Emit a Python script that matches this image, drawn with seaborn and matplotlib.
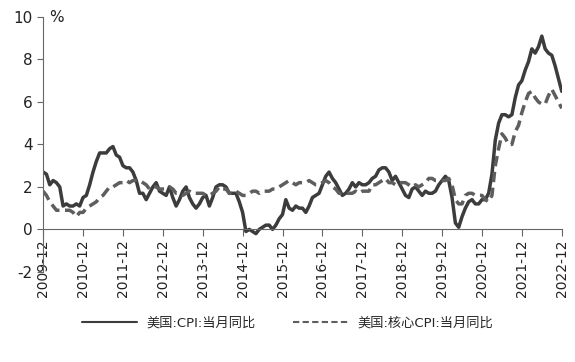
import numpy as np
import pandas as pd
import matplotlib
matplotlib.use("Agg")
import matplotlib.pyplot as plt
import seaborn as sns

# ── Data: monthly YoY, 2009-12 .. 2022-12 ───────────────────────────────────
cpi = [
    2.7,
    2.6, 2.1, 2.3, 2.2, 2.0, 1.1, 1.2, 1.1, 1.1, 1.2, 1.1, 1.5,   # 2010
    1.6, 2.1, 2.7, 3.2, 3.6, 3.6, 3.6, 3.8, 3.9, 3.5, 3.4, 3.0,   # 2011
    2.9, 2.9, 2.7, 2.3, 1.7, 1.7, 1.4, 1.7, 2.0, 2.2, 1.8, 1.7,   # 2012
    1.6, 2.0, 1.5, 1.1, 1.4, 1.8, 2.0, 1.5, 1.2, 1.0, 1.2, 1.5,   # 2013
    1.6, 1.1, 1.5, 2.0, 2.1, 2.1, 2.0, 1.7, 1.7, 1.7, 1.3, 0.8,   # 2014
    -0.1, 0.0, -0.1, -0.2, 0.0, 0.1, 0.2, 0.2, 0.0, 0.2, 0.5, 0.7,  # 2015
    1.4, 1.0, 0.9, 1.1, 1.0, 1.0, 0.8, 1.1, 1.5, 1.6, 1.7, 2.1,   # 2016
    2.5, 2.7, 2.4, 2.2, 1.9, 1.6, 1.7, 1.9, 2.2, 2.0, 2.2, 2.1,   # 2017
    2.1, 2.2, 2.4, 2.5, 2.8, 2.9, 2.9, 2.7, 2.3, 2.5, 2.2, 1.9,   # 2018
    1.6, 1.5, 1.9, 2.0, 1.8, 1.6, 1.8, 1.7, 1.7, 1.8, 2.1, 2.3,   # 2019
    2.5, 2.3, 1.5, 0.3, 0.1, 0.6, 1.0, 1.3, 1.4, 1.2, 1.2, 1.4,   # 2020
    1.4, 1.7, 2.6, 4.2, 5.0, 5.4, 5.4, 5.3, 5.4, 6.2, 6.8, 7.0,   # 2021
    7.5, 7.9, 8.5, 8.3, 8.6, 9.1, 8.5, 8.3, 8.2, 7.7, 7.1, 6.5,   # 2022
]
core_cpi = [
    1.8,
    1.6, 1.3, 1.1, 0.9, 0.9, 0.9, 0.9, 0.9, 0.8, 0.6, 0.8, 0.8,   # 2010
    1.0, 1.1, 1.2, 1.3, 1.5, 1.6, 1.8, 2.0, 2.0, 2.1, 2.2, 2.2,   # 2011
    2.3, 2.2, 2.3, 2.3, 2.3, 2.2, 2.1, 1.9, 2.0, 2.0, 1.9, 1.9,   # 2012
    1.9, 2.0, 1.9, 1.7, 1.7, 1.6, 1.7, 1.8, 1.7, 1.7, 1.7, 1.7,   # 2013
    1.6, 1.6, 1.7, 1.8, 2.0, 1.9, 1.9, 1.7, 1.7, 1.8, 1.7, 1.6,   # 2014
    1.6, 1.7, 1.8, 1.8, 1.7, 1.8, 1.8, 1.8, 1.9, 1.9, 2.0, 2.1,   # 2015
    2.2, 2.3, 2.2, 2.1, 2.2, 2.2, 2.2, 2.3, 2.2, 2.1, 2.1, 2.2,   # 2016
    2.3, 2.2, 2.0, 1.9, 1.7, 1.7, 1.7, 1.7, 1.7, 1.8, 1.7, 1.8,   # 2017
    1.8, 1.8, 2.1, 2.1, 2.2, 2.3, 2.4, 2.2, 2.2, 2.1, 2.2, 2.2,   # 2018
    2.2, 2.1, 2.0, 2.1, 2.0, 2.1, 2.2, 2.4, 2.4, 2.3, 2.3, 2.3,   # 2019
    2.3, 2.4, 2.1, 1.4, 1.2, 1.2, 1.6, 1.7, 1.7, 1.6, 1.6, 1.6,   # 2020
    1.4, 1.3, 1.6, 3.0, 3.8, 4.5, 4.3, 4.0, 4.0, 4.6, 4.9, 5.5,   # 2021
    6.0, 6.4, 6.5, 6.2, 6.0, 5.9, 5.9, 6.3, 6.6, 6.3, 6.0, 5.7,   # 2022
]
months = pd.period_range("2009-12", "2022-12", freq="M")
tick_labels = [f"{y}-12" for y in range(2009, 2023)]

CPI_LABEL  = "美国:CPI:当月同比"
CORE_LABEL = "美国:核心CPI:当月同比"

df = pd.DataFrame({
    "idx": np.arange(len(months)),
    CPI_LABEL: cpi,
    CORE_LABEL: core_cpi,
}).melt(id_vars="idx", var_name="series", value_name="yoy")

# ── Plot ────────────────────────────────────────────────────────────────────
sns.set_style("white")
plt.rcParams["font.family"] = ["DejaVu Sans", "Noto Sans CJK SC"]
plt.rcParams["axes.unicode_minus"] = False

fig = plt.figure(figsize=(5.75, 3.62), dpi=100)
ax = fig.add_axes([0.075, 0.249, 0.902, 0.704])

sns.lineplot(data=df, x="idx", y="yoy", hue="series", style="series",
             palette={CPI_LABEL: "#3c3c3c", CORE_LABEL: "#5e5e5e"},
             dashes={CPI_LABEL: "", CORE_LABEL: (3, 1.6)},
             linewidth=2.5, ax=ax, legend=False)

ax.set_xlim(0, len(months) - 1)
ax.set_ylim(-2, 10)
ax.set_yticks(range(-2, 11, 2))
ax.set_xticks(np.arange(0, len(months), 12))
ax.set_xticklabels(tick_labels)
ax.tick_params(axis="y", labelsize=11, colors="#222222", length=4,
               direction="out", left=True, color="#666666")
ax.tick_params(axis="x", length=5, direction="out", bottom=True,
               color="#666666", pad=2, labelrotation=90, labelsize=10,
               labelcolor="#222222")
ax.set_xlabel("")
ax.set_ylabel("")

for s in ["top", "right"]:
    ax.spines[s].set_visible(False)
ax.spines["bottom"].set_position(("data", 0))
ax.spines["left"].set_color("#666666")
ax.spines["bottom"].set_color("#666666")

ax.text(0.012, 1.0, "%", transform=ax.transAxes, fontsize=11,
        ha="left", va="center", color="#222222")

handles = [
    plt.Line2D([], [], color="#3c3c3c", lw=1.5),
    plt.Line2D([], [], color="#5e5e5e", lw=1.5, dashes=(3, 1.6)),
]
fig.legend(handles, [CPI_LABEL, CORE_LABEL], loc="center",
           bbox_to_anchor=(0.5, 0.108), ncol=2, frameon=False,
           fontsize=9.5, handlelength=4.2, columnspacing=2.8,
           handletextpad=0.7)

fig.savefig("out.png", dpi=100)
